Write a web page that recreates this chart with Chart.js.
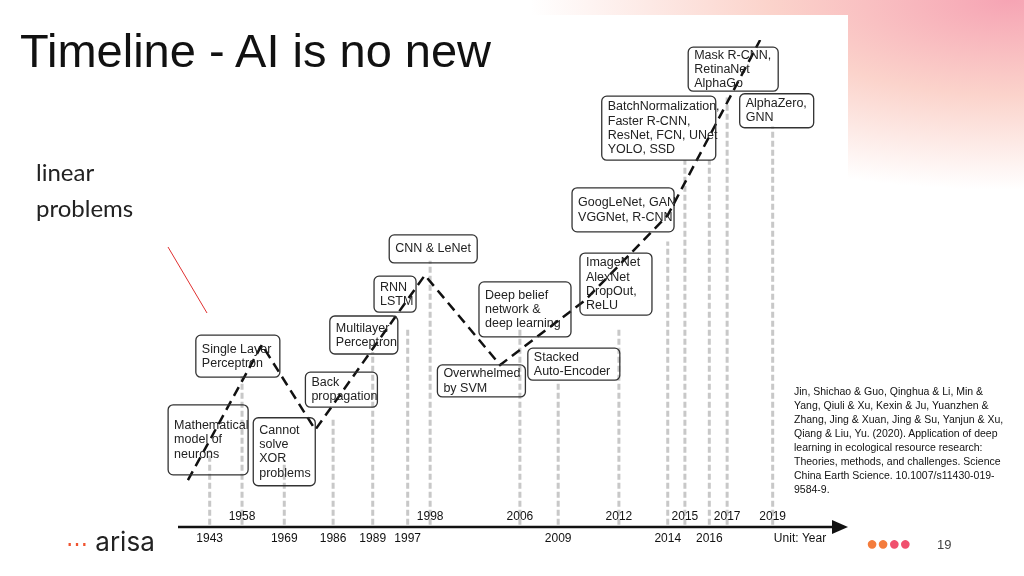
<!DOCTYPE html>
<html><head><meta charset="utf-8">
<script src="https://cdn.jsdelivr.net/npm/chart.js@4"></script>
<style>
body{margin:0;width:1024px;height:576px;overflow:hidden;position:relative;font-family:"Liberation Sans",Arial,sans-serif;
 background:radial-gradient(ellipse 480px 190px at 1010px 0px,#f6a4b4 0%,#fbd3cb 50%,rgba(255,255,255,0) 100%),#fff;}
#c{position:absolute;left:0;top:0}
.t{position:absolute;z-index:2}
</style></head><body>
<canvas id="c" width="1024" height="576"></canvas>
<div class="t" style="left:20px;top:23px;font-size:47px;color:#111">Timeline - AI is no new</div>
<div class="t" style="left:36px;top:154px;font-size:24px;line-height:36px;font-family:Lato;color:#222">linear<br>problems</div>
<svg class="t" style="left:0;top:0" width="300" height="330"><line x1="168" y1="247" x2="207" y2="313" stroke="#e03030" stroke-width="1"/></svg>
<div class="t" style="left:794px;top:384px;width:216px;font-size:10.5px;line-height:14px;color:#111">Jin, Shichao &amp; Guo, Qinghua &amp; Li, Min &amp; Yang, Qiuli &amp; Xu, Kexin &amp; Ju, Yuanzhen &amp; Zhang, Jing &amp; Xuan, Jing &amp; Su, Yanjun &amp; Xu, Qiang &amp; Liu, Yu. (2020). Application of deep learning in ecological resource research: Theories, methods, and challenges. Science China Earth Science. 10.1007/s11430-019-9584-9.</div>
<div class="t" style="left:66px;top:526px;font-size:26px;font-family:Inter;color:#222"><span style="color:#f0532f;font-size:22px">&#8943;</span> arisa</div>
<div class="t" style="left:866px;top:532px;font-size:20px;color:#f47c3c;letter-spacing:-1px">&#9679;&#9679;<span style="color:#f0506e">&#9679;&#9679;</span></div>
<div class="t" style="left:937px;top:537px;font-size:13px;color:#444">19</div>
<script>
// years on the axis and where they sit (axis units 0-100)
var years = ['1943','1958','1969','1986','1989','1997','1998','2006','2009','2012','2014','2015','2016','2017','2019'];
var yearPos = [4.5,9.4,15.8,23.2,29.2,34.5,37.9,51.5,57.3,66.5,73.9,76.5,80.2,82.9,89.8];
var yearRow = [1,0,1,1,1,1,0,0,1,0,1,0,1,0,0]; // 0 = upper row, 1 = lower row
var guideTop = [14.6,30,12.5,21,35,40,54,40,29,40,58,75,75,88,82];
// trend line (dashed)
var trendX = [1.2,12.4,20.5,37.1,48.5,61.4,73.9,87.9];
var trendY = [8.3,36.5,18.8,51,32.3,45.8,63.5,100];
// annotation boxes: text, left, top (axis units), width, height (px)
var boxes = [
 [['Mathematical','model of','neurons'],-1.8,24,80,70],
 [['Single Layer','Perceptron'],2.4,38.5,84,42],
 [['Cannot','solve','XOR','problems'],11.1,21.3,62,68],
 [['Back','propagation'],19,30.8,72,35],
 [['Multilayer','Perceptron'],22.7,42.5,68,38],
 [['RNN','LSTM'],29.4,50.8,42,36],
 [['CNN & LeNet'],31.7,59.4,88,28],
 [['Overwhelmed','by SVM'],39,32.3,88,32],
 [['Deep belief','network &','deep learning'],45.3,49.6,92,55],
 [['Stacked','Auto-Encoder'],52.7,35.8,92,32],
 [['ImageNet','AlexNet','DropOut,','ReLU'],60.6,55.6,72,62],
 [['GoogLeNet, GAN','VGGNet, R-CNN'],59.4,69.2,102,44],
 [['BatchNormalization,','Faster R-CNN,','ResNet, FCN, UNet','YOLO, SSD'],63.9,88.3,114,64],
 [['Mask R-CNN,','RetinaNet','AlphaGo'],77,98.5,90,44],
 [['AlphaZero,','GNN'],84.8,88.8,74,34]
];

var trend = trendX.map(function(x,i){return {x:x,y:trendY[i]};});

function rr(ctx,x,y,w,h,r){ctx.beginPath();ctx.moveTo(x+r,y);ctx.arcTo(x+w,y,x+w,y+h,r);ctx.arcTo(x+w,y+h,x,y+h,r);ctx.arcTo(x,y+h,x,y,r);ctx.arcTo(x,y,x+w,y,r);ctx.closePath();}

var deco = {
 id:'deco',
 beforeDraw:function(ch){
  var ctx=ch.ctx, xs=ch.scales.x, ys=ch.scales.y;
  ctx.save();
  ctx.fillStyle='#fff';ctx.fillRect(165,15,683,540);
  // guides
  ctx.strokeStyle='#c8c8c8';ctx.lineWidth=3;ctx.setLineDash([6,3]);
  years.forEach(function(y,i){
   var px=xs.getPixelForValue(yearPos[i]);
   ctx.beginPath();ctx.moveTo(px,ys.getPixelForValue(-1));ctx.lineTo(px,ys.getPixelForValue(guideTop[i]));ctx.stroke();
  });
  ctx.setLineDash([]);
  // axis arrow
  var ay=527;
  ctx.strokeStyle='#111';ctx.lineWidth=2.5;
  ctx.beginPath();ctx.moveTo(178,ay);ctx.lineTo(842,ay);ctx.stroke();
  ctx.fillStyle='#111';ctx.beginPath();ctx.moveTo(848,ay);ctx.lineTo(832,ay-7);ctx.lineTo(832,ay+7);ctx.closePath();ctx.fill();
  ctx.font='12px "Liberation Sans"';ctx.textAlign='center';ctx.textBaseline='middle';
  years.forEach(function(y,i){
   ctx.fillText(y,xs.getPixelForValue(yearPos[i]),yearRow[i]?539:517);
  });
  ctx.fillText('Unit: Year',800,539);
  ctx.restore();
 },
 afterDatasetsDraw:function(ch){
  var ctx=ch.ctx, xs=ch.scales.x, ys=ch.scales.y;
  ctx.save();
  ctx.font='12.5px "Liberation Sans"';ctx.textBaseline='top';ctx.textAlign='left';
  boxes.forEach(function(b){
   var x=xs.getPixelForValue(b[1]), y=ys.getPixelForValue(b[2]);
   rr(ctx,x,y,b[3],b[4],5);
   ctx.strokeStyle='#333';ctx.lineWidth=1.3;ctx.stroke();
   ctx.fillStyle='#222';
   var lh=14.2, t0=y+(b[4]-b[0].length*lh)/2+1;
   b[0].forEach(function(s,k){ctx.fillText(s,x+6,t0+k*lh);});
  });
  ctx.restore();
 }
};

new Chart(document.getElementById('c'),{
 type:'scatter',
 data:{datasets:[{data:trend,showLine:true,borderColor:'#111',borderWidth:2.5,borderDash:[10,6],pointRadius:0,tension:0}]},
 options:{responsive:false,animation:false,
  layout:{padding:{left:180,right:184,top:40,bottom:56}},
  plugins:{legend:{display:false},tooltip:{enabled:false}},
  scales:{x:{type:'linear',min:0,max:100,display:false},y:{min:0,max:100,display:false}}},
 plugins:[deco]
});
</script>
</body></html>
